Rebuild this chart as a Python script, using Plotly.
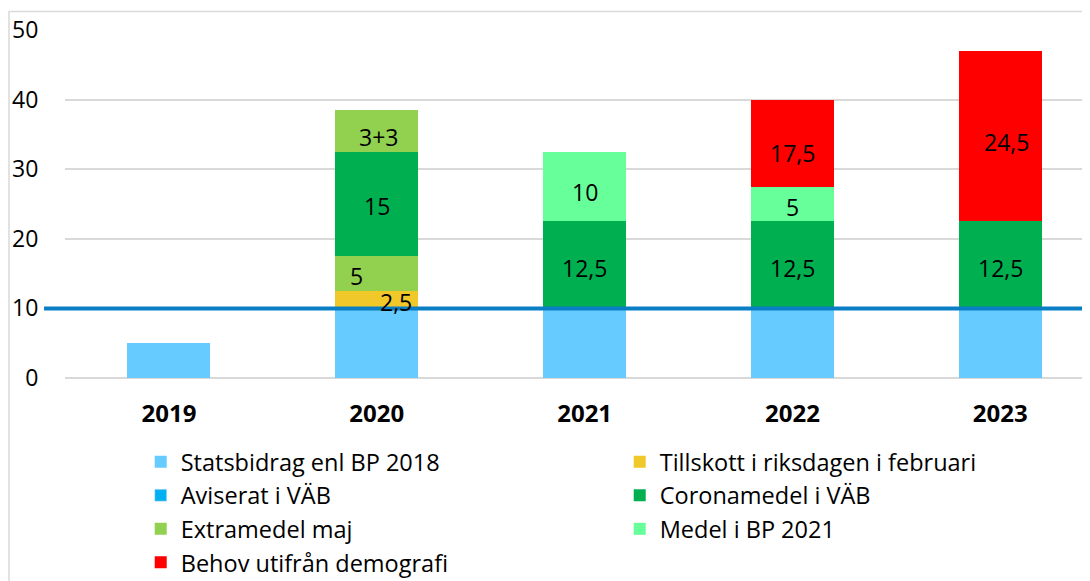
import plotly.graph_objects as go

# ---------------- data ----------------
years = ["2019", "2020", "2021", "2022", "2023"]
statsbidrag = [5, 10, 10, 10, 10]
tillskott = [None, 2.5, None, None, None]
extramedel_lower = [None, 5, None, None, None]
coronamedel = [None, 15, 12.5, 12.5, 12.5]
extramedel_upper = [None, 6, None, None, None]
medel_bp2021 = [None, None, 10, 5, None]
behov = [None, None, None, 12.5, 24.5]
aviserat = 10

tillskott_labels = ["", "2,5", "", "", ""]
extramedel_lower_labels = ["", "5", "", "", ""]
coronamedel_labels = ["", "15", "12,5", "12,5", "12,5"]
extramedel_upper_labels = ["", "3+3", "", "", ""]
medel_bp2021_labels = ["", "", "10", "5", ""]
behov_labels = ["", "", "", "17,5", "24,5"]

# ---------------- style ----------------
FONT = "Open Sans"
C_STATS = "#66CCFF"
C_TILL = "#F0C82A"
C_AVIS = "#00B0F0"
C_AVIS_LINE = "#0A7EC4"
C_CORONA = "#00B050"
C_EXTRA = "#92D050"
C_MEDEL = "#66FF99"
C_BEHOV = "#FF0000"

fig = go.Figure()

# stack order (bottom -> top)
stack = [
    ("Statsbidrag enl BP 2018", statsbidrag, C_STATS, None, 1, True, "stats"),
    ("Tillskott i riksdagen i februari", tillskott, C_TILL, tillskott_labels, 2, True, "till"),
    ("Extramedel maj", extramedel_lower, C_EXTRA, extramedel_lower_labels, 5, True, "extra"),
    ("Coronamedel i VÄB", coronamedel, C_CORONA, coronamedel_labels, 4, True, "corona"),
    ("Extramedel maj", extramedel_upper, C_EXTRA, extramedel_upper_labels, 5, False, "extra2"),
    ("Medel i BP 2021", medel_bp2021, C_MEDEL, medel_bp2021_labels, 6, True, "medel"),
    ("Behov utifrån demografi", behov, C_BEHOV, behov_labels, 7, True, "behov"),
]

# label nudges (px) to mimic the original label placement
nudge = {
    ("till", 1): (19, -2),
    ("extra", 1): (-20, -2),
    ("extra2", 1): (2, -6),
    ("corona", 1): (0, -2),
    ("corona", 2): (0, -3),
    ("corona", 3): (0, -3),
    ("corona", 4): (0, -3),
    ("medel", 2): (0, -5),
    ("medel", 3): (0, -3),
    ("behov", 3): (0, -10),
    ("behov", 4): (6, -6),
}

base = [0.0] * len(years)
annotations = []
for name, vals, color, labels, rank, showleg, key in stack:
    fig.add_trace(go.Bar(
        x=years, y=vals, name=name, marker=dict(color=color, line=dict(width=0)),
        width=0.4, legendrank=rank, showlegend=showleg,
        legendgroup="extra" if key.startswith("extra") else key,
        hoverinfo="skip",
    ))
    for i, v in enumerate(vals):
        if v is None:
            continue
        if labels and labels[i]:
            dx, dy = nudge.get((key, i), (0, -2))
            annotations.append(dict(
                x=i, xref="x", y=base[i] + v / 2, yref="y", text=labels[i], showarrow=False,
                xshift=dx, yshift=dy, font=dict(family=FONT, size=23, color="#000000"),
            ))
        base[i] += v

# legend-only entry for the VÄB line
fig.add_trace(go.Bar(
    x=years, y=[None] * len(years), name="Aviserat i VÄB",
    marker=dict(color=C_AVIS), legendrank=3, showlegend=True,
))

shapes = [
    # outer frame
    dict(type="rect", xref="paper", yref="paper", x0=-0.0542, x1=1.05, y0=-0.8, y1=1.053,
         line=dict(color="#D9D9D9", width=1.5), fillcolor="rgba(0,0,0,0)", layer="below"),
    # Aviserat i VÄB line
    dict(type="line", xref="paper", yref="y", x0=-0.0203, x1=1.01, y0=aviserat, y1=aviserat,
         line=dict(color=C_AVIS_LINE, width=4), layer="above"),
]

fig.update_layout(
    width=1090, height=581,
    margin=dict(l=57, r=0, t=22, b=211, autoexpand=False),
    paper_bgcolor="white", plot_bgcolor="white",
    barmode="stack",
    font=dict(family=FONT, size=23, color="#000000"),
    showlegend=True,
    legend=dict(
        orientation="h", x=0.0733, xanchor="left", xref="paper",
        y=-0.178, yanchor="top", yref="paper",
        entrywidth=434, entrywidthmode="pixels", traceorder="normal",
        font=dict(family=FONT, size=23.5, color="#000000"), bgcolor="rgba(0,0,0,0)",
    ),
    annotations=annotations,
    shapes=shapes,
    xaxis=dict(
        type="category", range=[-0.5, 4.47], showgrid=False, zeroline=False,
        showline=False, ticks="outside", ticklen=14, tickcolor="rgba(0,0,0,0)",
        tickfont=dict(family=FONT, size=24, color="#000000", weight="bold"),
        fixedrange=True, automargin=False,
    ),
    yaxis=dict(
        range=[0, 50], dtick=10, showgrid=True, gridcolor="#D9D9D9", gridwidth=2,
        zeroline=True, zerolinecolor="#D9D9D9", zerolinewidth=2, showline=False,
        ticks="outside", ticklen=21, tickcolor="rgba(0,0,0,0)",
        tickfont=dict(family=FONT, size=23, color="#000000"), fixedrange=True,
        automargin=False,
    ),
)

fig.write_html("out.html")
